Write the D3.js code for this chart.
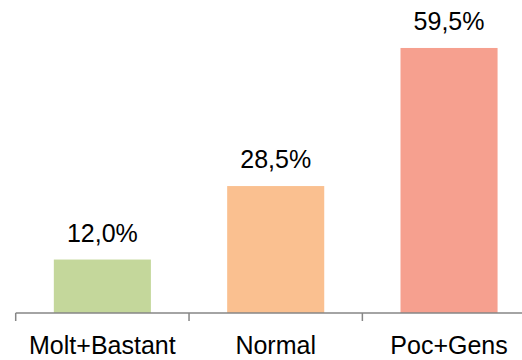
<!DOCTYPE html>
<meta charset="utf-8">
<style>
body { margin: 0; background: #fff; }
text { font-family: "Liberation Sans", Arial, sans-serif; fill: #000; }
.axisLine { stroke: #868686; stroke-width: 1.5; fill: none; }
</style>
<svg width="522" height="360"></svg>
<script src="https://d3js.org/d3.v7.min.js"></script>
<script>

var categories = ["Molt+Bastant", "Normal", "Poc+Gens"];
var values = [0.120, 0.285, 0.595];
var colors = ["#c4d79b", "#fac090", "#f6a08f"];

var svg = d3.select("svg");
var baseY = 313;

var x = d3.scaleBand()
    .domain(categories)
    .range([15.7, 535.7])
    .paddingInner(0.44)
    .paddingOuter(0.22);

var y = d3.scaleLinear()
    .domain([0, 0.7])
    .range([baseY, 1.2]);

var fmt = function(v) { return (v * 100).toFixed(1).replace(".", ",") + "%"; };

// bars
svg.append("g").selectAll("rect")
  .data(values)
  .enter().append("rect")
    .attr("x", function(d, i) { return x(categories[i]); })
    .attr("y", function(d) { return y(d); })
    .attr("width", x.bandwidth())
    .attr("height", function(d) { return baseY - y(d); })
    .attr("fill", function(d, i) { return colors[i]; });

// value labels
svg.append("g").selectAll("text")
  .data(values)
  .enter().append("text")
    .attr("x", function(d, i) { return x(categories[i]) + x.bandwidth() / 2; })
    .attr("y", function(d) { return y(d) - 18; })
    .attr("text-anchor", "middle")
    .attr("font-size", 25)
    .text(fmt);

// axis line + ticks at category boundaries
var step = x.step();
var edges = d3.range(categories.length + 1).map(function(i) { return x.range()[0] + i * step; });

svg.append("line")
    .attr("class", "axisLine")
    .attr("x1", edges[0])
    .attr("x2", 522)
    .attr("y1", baseY)
    .attr("y2", baseY);

svg.append("g").selectAll("line")
  .data(edges)
  .enter().append("line")
    .attr("class", "axisLine")
    .attr("x1", function(d) { return d; })
    .attr("x2", function(d) { return d; })
    .attr("y1", baseY)
    .attr("y2", baseY + 8);

// category labels
svg.append("g").selectAll("text")
  .data(categories)
  .enter().append("text")
    .attr("x", function(d) { return x(d) + x.bandwidth() / 2; })
    .attr("y", 354)
    .attr("text-anchor", "middle")
    .attr("font-size", 25)
    .text(function(d) { return d; });

</script>
